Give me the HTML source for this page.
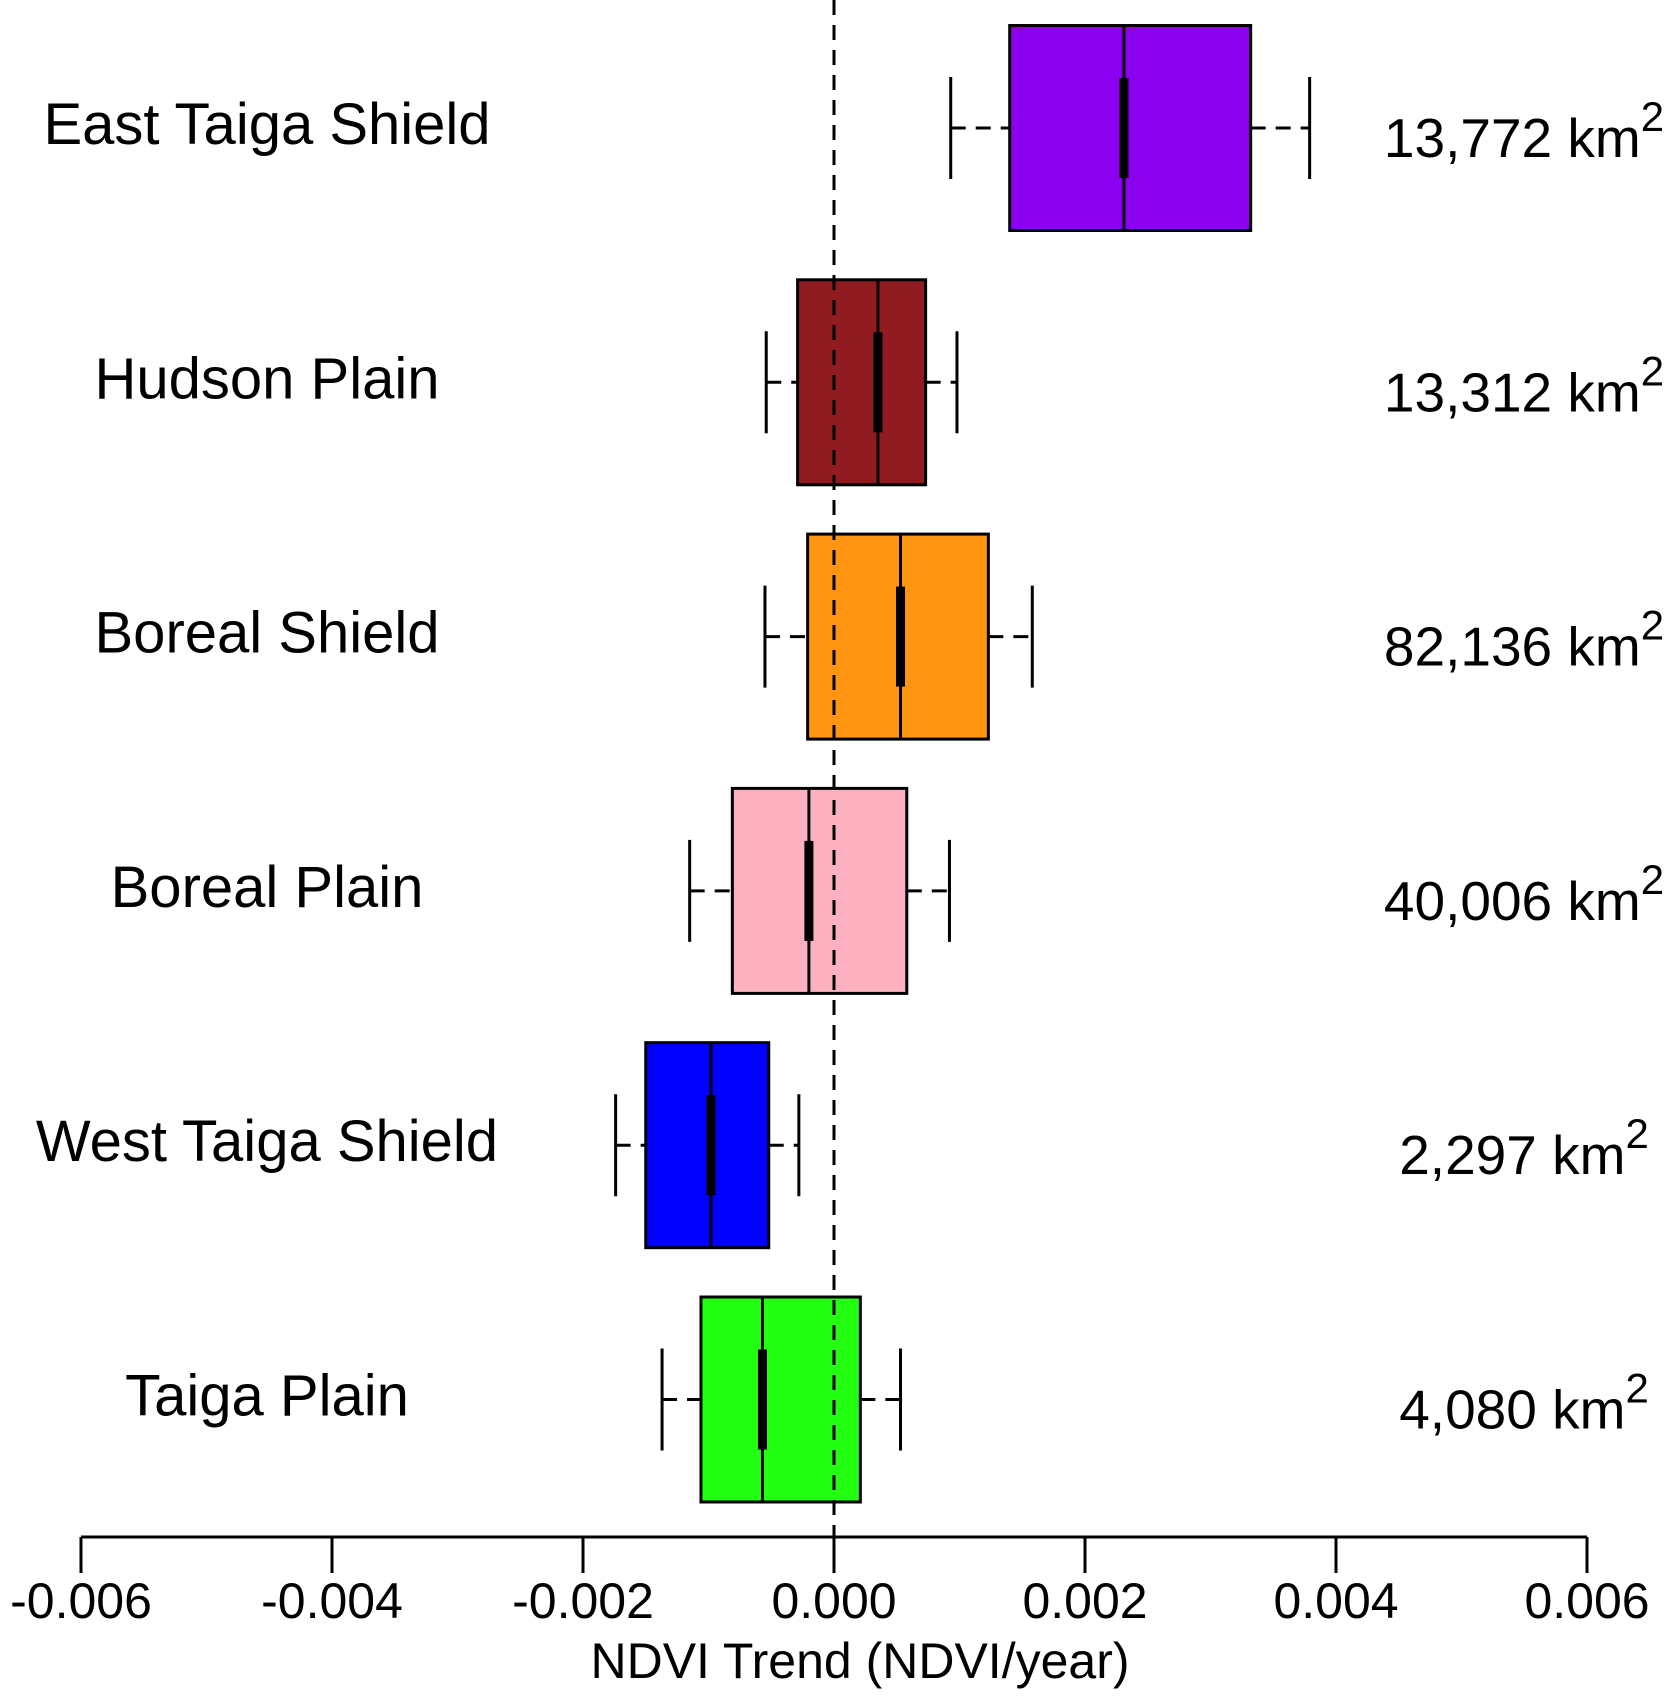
<!DOCTYPE html>
<html><head><meta charset="utf-8"><style>
html,body{margin:0;padding:0;background:#fff;}
svg{display:block;font-family:"Liberation Sans",Arial,sans-serif;}
</style></head><body>
<svg id="chart" width="1675" height="1702" viewBox="0 0 1675 1702" xmlns="http://www.w3.org/2000/svg">
<g id="marks"></g>
<g id="axis"></g>
</svg>
<script>
const categories = ["East Taiga Shield","Hudson Plain","Boreal Shield","Boreal Plain","West Taiga Shield","Taiga Plain"];
const areas = ["13,772","13,312","82,136","40,006","2,297","4,080"];
const whiskerLow = [0.00093,-0.00054,-0.00055,-0.00115,-0.00174,-0.00137];
const q1 = [0.00140,-0.00029,-0.00021,-0.00081,-0.00150,-0.00106];
const median = [0.00231,0.00035,0.00053,-0.00020,-0.00098,-0.00057];
const q3 = [0.00332,0.00073,0.00123,0.00058,-0.00052,0.00021];
const whiskerHigh = [0.00379,0.00098,0.00158,0.00092,-0.00028,0.00053];
const colors = ["#8B00EE","#901C22","#FF9510","#FDB0C0","#0000FF","#22FF11"];
const ticks = [-0.006,-0.004,-0.002,0,0.002,0.004,0.006];
const tickLabels = ["-0.006","-0.004","-0.002","0.000","0.002","0.004","0.006"];

const NS="http://www.w3.org/2000/svg";
const X0=81,X1=1587,DMIN=-0.006,DMAX=0.006;
function xs(v){return X0+(v-DMIN)/(DMAX-DMIN)*(X1-X0);}
const ROW0=128,ROWSTEP=254.3;
const AXY=1537;
function ys(i){return ROW0+i*ROWSTEP;}
function mk(tag,attrs,parent){const e=document.createElementNS(NS,tag);for(const k in attrs)e.setAttribute(k,attrs[k]);parent.appendChild(e);return e;}
const marks=document.getElementById('marks');
const axis=document.getElementById('axis');

categories.forEach((c,i)=>{
  const cy=ys(i),hh=102.5,wh=51;
  const g=mk('g',{},marks);
  
  
  mk('line',{x1:xs(whiskerLow[i]),x2:xs(q1[i]),y1:cy,y2:cy,stroke:'#000','stroke-width':3,'stroke-dasharray':'15,10'},g);
  mk('line',{x1:xs(q3[i]),x2:xs(whiskerHigh[i]),y1:cy,y2:cy,stroke:'#000','stroke-width':3,'stroke-dasharray':'15,10'},g);
  mk('line',{x1:xs(whiskerLow[i]),x2:xs(whiskerLow[i]),y1:cy-wh,y2:cy+wh,stroke:'#000','stroke-width':3},g);
  mk('line',{x1:xs(whiskerHigh[i]),x2:xs(whiskerHigh[i]),y1:cy-wh,y2:cy+wh,stroke:'#000','stroke-width':3},g);
  mk('rect',{x:xs(q1[i]),y:cy-hh,width:xs(q3[i])-xs(q1[i]),height:2*hh,fill:colors[i],stroke:'#000','stroke-width':3},g);
  mk('line',{x1:xs(median[i]),x2:xs(median[i]),y1:cy-hh,y2:cy+hh,stroke:'#000','stroke-width':3},g);
  mk('rect',{x:xs(median[i])-4.5,y:cy-50,width:9,height:100,fill:'#000'},g);
  const t=mk('text',{x:267,y:cy+16,'font-size':58,'text-anchor':'middle',fill:'#000'},marks);
  t.textContent=c;
  
  
  const a=mk('text',{x:1524,y:cy+29,'font-size':55,'text-anchor':'middle',fill:'#000'},marks);
  
  
  a.appendChild(document.createTextNode(areas[i]+' km'));
  const s=mk('tspan',{dy:-26,'font-size':42},a);
  s.textContent='2';
});

const zl=mk('line',{x1:xs(0),x2:xs(0),y1:0,y2:AXY,stroke:'#000','stroke-width':3,'stroke-dasharray':'15,10'},marks);



const al=mk('line',{x1:xs(DMIN),x2:xs(DMAX),y1:AXY,y2:AXY,stroke:'#000','stroke-width':3},axis);


ticks.forEach((v,i)=>{
  const tk=mk('line',{x1:xs(v),x2:xs(v),y1:AXY,y2:AXY+36,stroke:'#000','stroke-width':3},axis);
  
  
  const tl=mk('text',{x:xs(v),y:1618,'font-size':50,'text-anchor':'middle',fill:'#000'},axis);
  tl.textContent=tickLabels[i];
  
  
});
const ttl=mk('text',{x:xs(0)+26,y:1678,'font-size':50,'text-anchor':'middle',fill:'#000'},axis);
ttl.textContent='NDVI Trend (NDVI/year)';


</script>
</body></html>
